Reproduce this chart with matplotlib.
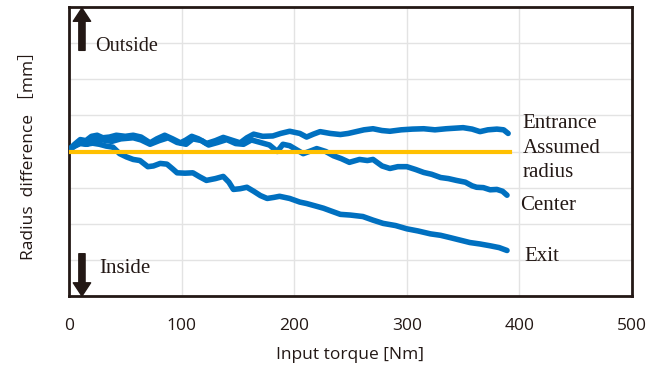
import matplotlib.pyplot as plt
import numpy as np

# values (torque in Nm, radius difference in grid units)
entrance_x = [0, 5, 10, 15, 20, 25, 30, 36, 42, 50, 57, 64, 72, 78, 85, 92, 99, 104, 109, 115,
              122, 130, 137, 144, 152, 158, 164, 172, 181, 188, 196, 205, 211, 217, 223, 232, 241,
              248, 255, 262, 270, 278, 285, 295, 305, 315, 325, 335, 350, 358, 365, 372, 380, 386, 390]
entrance_y = [0.05, 0.2, 0.33, 0.3, 0.42, 0.45, 0.38, 0.4, 0.45, 0.42, 0.45, 0.4, 0.24, 0.35, 0.45,
              0.35, 0.24, 0.32, 0.42, 0.35, 0.22, 0.3, 0.39, 0.32, 0.24, 0.38, 0.48, 0.42, 0.43, 0.5,
              0.56, 0.5, 0.4, 0.48, 0.55, 0.5, 0.47, 0.5, 0.55, 0.6, 0.63, 0.58, 0.56, 0.6, 0.62,
              0.63, 0.6, 0.63, 0.66, 0.62, 0.55, 0.6, 0.62, 0.6, 0.5]

center_x = [0, 5, 10, 16, 22, 30, 38, 46, 57, 64, 72, 80, 88, 96, 104, 110, 118, 124, 132, 140,
            148, 155, 162, 170, 178, 185, 190, 196, 202, 208, 215, 220, 228, 235, 242, 249, 258,
            265, 270, 278, 285, 292, 300, 308, 315, 322, 330, 337, 344, 352, 358, 362, 368, 374,
            380, 385, 389]
center_y = [0.05, 0.15, 0.25, 0.2, 0.3, 0.32, 0.28, 0.35, 0.38, 0.32, 0.2, 0.3, 0.38, 0.25, 0.2,
            0.35, 0.3, 0.18, 0.25, 0.33, 0.22, 0.2, 0.32, 0.25, 0.18, 0.0, 0.2, 0.16, 0.05, -0.06,
            0.02, 0.08, 0.0, -0.12, -0.2, -0.3, -0.22, -0.25, -0.22, -0.4, -0.47, -0.42, -0.42,
            -0.5, -0.58, -0.63, -0.72, -0.75, -0.8, -0.85, -0.95, -0.99, -1.0, -1.06, -1.05,
            -1.1, -1.21]

exit_x = [0, 5, 10, 15, 21, 27, 33, 39, 45, 51, 57, 63, 70, 75, 81, 87, 92, 96, 103, 110, 116,
          122, 130, 137, 142, 146, 152, 158, 164, 170, 176, 182, 187, 196, 205, 211, 218, 226,
          233, 241, 250, 261, 270, 279, 290, 300, 310, 321, 330, 338, 347, 356, 365, 374, 382, 389]
exit_y = [0.05, 0.15, 0.22, 0.2, 0.23, 0.2, 0.15, 0.12, -0.06, -0.15, -0.22, -0.25, -0.42, -0.4,
          -0.33, -0.35, -0.48, -0.59, -0.6, -0.59, -0.7, -0.8, -0.75, -0.69, -0.85, -1.05, -1.03,
          -0.99, -1.1, -1.22, -1.3, -1.27, -1.24, -1.3, -1.4, -1.44, -1.5, -1.57, -1.65, -1.74,
          -1.76, -1.8, -1.9, -1.99, -2.05, -2.14, -2.2, -2.28, -2.32, -2.38, -2.45, -2.52, -2.56,
          -2.61, -2.66, -2.74]

assumed_x = [0, 392]
assumed_y = [0, 0]

xticks = [0, 100, 200, 300, 400, 500]
yticks = [-4, -3, -2, -1, 0, 1, 2, 3, 4]

blue = '#0070C0'
orange = '#FFC000'
dark = '#231815'
serif = 'Liberation Serif'
sans = ['Open Sans', 'Noto Sans CJK JP', 'DejaVu Sans']

fig = plt.figure(figsize=(6.65, 3.65), dpi=100)
ax = fig.add_axes([69 / 665, 69 / 365, 563 / 665, 289 / 365])

ax.plot(entrance_x, entrance_y, color=blue, lw=4.0, solid_capstyle='round', zorder=3)
ax.plot(center_x, center_y, color=blue, lw=4.0, solid_capstyle='round', zorder=3)
ax.plot(exit_x, exit_y, color=blue, lw=4.0, solid_capstyle='round', zorder=3)
ax.plot(assumed_x, assumed_y, color=orange, lw=3.0, zorder=4)

ax.set_xlim(0, 500)
ax.set_ylim(-4, 4)
ax.set_xticks(xticks)
ax.set_yticks(yticks)
ax.set_yticklabels([])
ax.tick_params(length=0, labelsize=12.5, labelcolor=dark, pad=16)
for lab in ax.get_xticklabels():
    lab.set_family(sans)
ax.grid(True, color='#e3e3e3', lw=1.0)
ax.set_axisbelow(True)
for s in ax.spines.values():
    s.set_linewidth(2.0)
    s.set_color(dark)

ax.set_xlabel('Input torque [Nm]', fontsize=12.5, family=sans, color=dark, labelpad=9)
ax.set_ylabel('Radius  difference \uff3bmm\uff3d', fontsize=12.5, family=sans, color=dark, labelpad=7)

# direction arrows
arrow_style = 'simple,head_length=0.95,head_width=1.25,tail_width=0.45'
ax.annotate('', xy=(11.5, 3.97), xytext=(11.5, 2.8),
            arrowprops=dict(arrowstyle=arrow_style, mutation_scale=10, color=dark,
                            shrinkA=0, shrinkB=0), zorder=5)
ax.annotate('', xy=(11.5, -4.0), xytext=(11.5, -2.83),
            arrowprops=dict(arrowstyle=arrow_style, mutation_scale=10, color=dark,
                            shrinkA=0, shrinkB=0), zorder=5, annotation_clip=False)

ax.text(23, 2.92, 'Outside', family=serif, fontsize=14.5, color=dark, va='center')
ax.text(26.6, -3.25, 'Inside', family=serif, fontsize=15, color=dark, va='center')
ax.text(403, 0.78, 'Entrance', family=serif, fontsize=15, color=dark, va='center')
ax.text(403, 0.08, 'Assumed', family=serif, fontsize=15, color=dark, va='center')
ax.text(403, -0.58, 'radius', family=serif, fontsize=15, color=dark, va='center')
ax.text(400.5, -1.5, 'Center', family=serif, fontsize=15, color=dark, va='center')
ax.text(404, -2.92, 'Exit', family=serif, fontsize=15, color=dark, va='center')

fig.savefig('out.png', dpi=100)
